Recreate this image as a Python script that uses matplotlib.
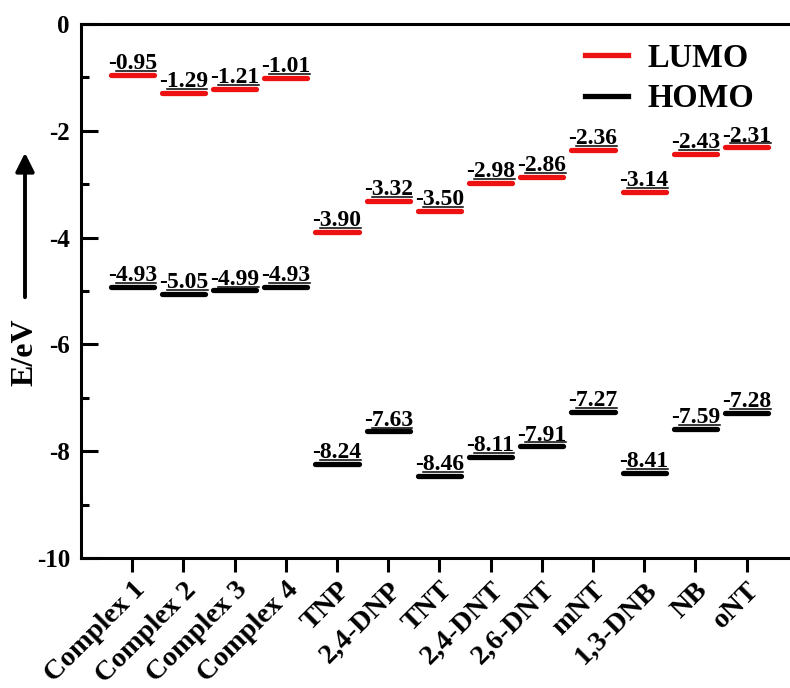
import numpy as np
import matplotlib
matplotlib.use("Agg")
import matplotlib.pyplot as plt
from matplotlib.lines import Line2D
from matplotlib.patches import FancyArrowPatch
from matplotlib.ticker import MultipleLocator
from matplotlib.transforms import ScaledTranslation

plt.rcParams['font.family'] = 'Liberation Serif'
plt.rcParams['font.weight'] = 'bold'
plt.rcParams['axes.unicode_minus'] = False

names = ['Complex 1', 'Complex 2', 'Complex 3', 'Complex 4', 'TNP', '2,4-DNP',
         'TNT', '2,4-DNT', '2,6-DNT', 'mNT', '1,3-DNB', 'NB', 'oNT']
lumo = [-0.95, -1.29, -1.21, -1.01, -3.90, -3.32, -3.50, -2.98, -2.86, -2.36, -3.14, -2.43, -2.31]
homo = [-4.93, -5.05, -4.99, -4.93, -8.24, -7.63, -8.46, -8.11, -7.91, -7.27, -8.41, -7.59, -7.28]

W, H = 790, 688
fig = plt.figure(figsize=(W / 100, H / 100), dpi=100)
ax = fig.add_axes([81 / W, 1 - 558 / H, 1 - 81 / W, (558 - 24) / H])

x = np.arange(1, len(names) + 1)
half = 0.42
red = '#ee1111'
vfs = 17

### level bars
for xi, lo, ho in zip(x, lumo, homo):
    ax.plot([xi - half, xi + half], [lo, lo], color=red, lw=3.8, solid_capstyle='round')
    ax.plot([xi - half, xi + half], [ho, ho], color='black', lw=3.8, solid_capstyle='round')

# legend proxies
ax.plot([], [], color=red, lw=3.8, label='LUMO')
ax.plot([], [], color='black', lw=3.8, label='HOMO')

### value labels
labels = []
for xi, lo, ho in zip(x, lumo, homo):
    for v in (lo, ho):
        t = ax.annotate('%.2f' % v, (xi, v), xytext=(0, 4.2), textcoords='offset points',
                        ha='center', va='baseline', fontsize=vfs, fontweight='bold')
        labels.append((t, xi, v))

ax.set_xlim(0, (W - 81) / 51.2)
ax.set_ylim(-10, 0)
ax.yaxis.set_major_locator(MultipleLocator(2))
ax.yaxis.set_minor_locator(MultipleLocator(1))
ax.set_xticks(x)
ax.set_xticklabels(names, rotation=45, ha='right', va='top', rotation_mode='anchor')
off = ScaledTranslation(6 / 100, 0, fig.dpi_scale_trans)
for lab in ax.get_xticklabels():
    lab.set_transform(lab.get_transform() + off)

ax.tick_params(axis='y', which='major', direction='in', length=12, width=2.2,
               labelsize=18, pad=8)
ax.tick_params(axis='y', which='minor', direction='in', length=6, width=2.2)
ax.tick_params(axis='x', which='major', direction='out', length=10, width=2.2,
               labelsize=20.5, pad=4)
for s in ('left', 'bottom', 'top'):
    ax.spines[s].set_linewidth(2.2)
ax.spines['right'].set_visible(False)

leg = ax.legend(loc='upper left', bbox_to_anchor=(0.711, 0.965), frameon=False,
                fontsize=23.5, handlelength=1.32, handletextpad=0.58, labelspacing=0.3,
                borderaxespad=0, borderpad=0)

### axis title with arrow
fig.text(25 / W, 1 - 352 / H, 'E/eV', rotation=90, ha='center', va='center',
         fontsize=23, fontweight='bold')
fig.add_artist(FancyArrowPatch(
    (25 / W, 1 - 300 / H), (25 / W, 1 - 150 / H), transform=fig.transFigure,
    arrowstyle='-|>', mutation_scale=28, lw=2.8, color='black'))

### underline the number part of each label (Origin style)
fig.canvas.draw()
r = fig.canvas.get_renderer()
dash = ax.text(0, 0, '-', fontsize=vfs, fontweight='bold')
dash_w = dash.get_window_extent(r).width
dash.remove()
inv = ax.transData.inverted()
for t, xi, v in labels:
    bb = t.get_window_extent(r)
    ypix = ax.transData.transform((xi, v))[1] + 3.9
    p0 = inv.transform((bb.x0 + dash_w, ypix))
    p1 = inv.transform((bb.x1 - 0.5, ypix))
    ax.add_line(Line2D([p0[0], p1[0]], [p0[1], p1[1]], color='black', lw=1.1))

fig.savefig('out.png', dpi=100)
